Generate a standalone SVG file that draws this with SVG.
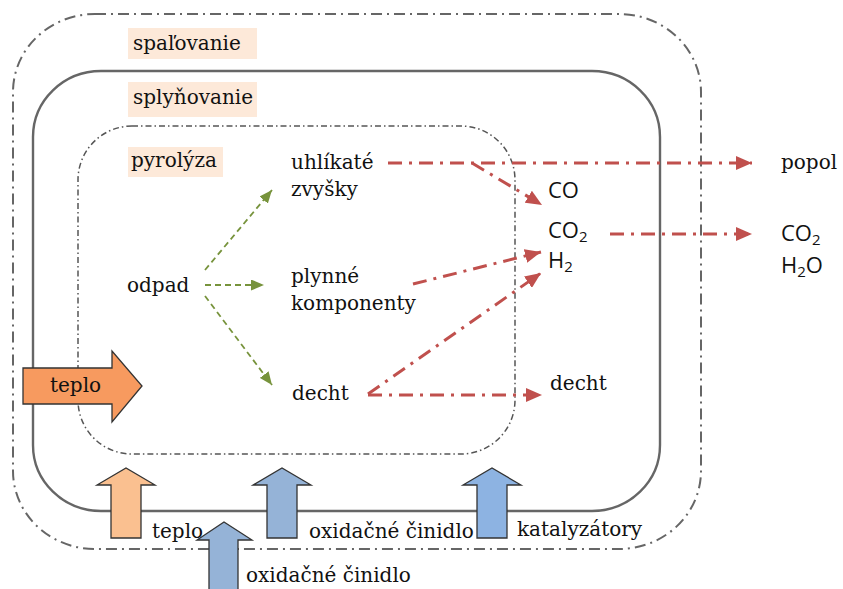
<svg xmlns="http://www.w3.org/2000/svg" width="843" height="589" viewBox="0 0 843 589">
<defs>
<style>
.t{font-family:"DejaVu Serif","Liberation Serif",serif;font-size:20px;fill:#111;}
.c{font-family:"Open Sans","Liberation Sans",sans-serif;font-size:22px;fill:#111;}
.sub{font-size:15px;}
.lbl{fill:#fde9d9;}
.red{fill:none;stroke:#c0504d;stroke-width:3;stroke-dasharray:14 7 3 7;}
.grn{fill:none;stroke:#77933c;stroke-width:1.8;stroke-dasharray:6 4;}
.arrow{stroke:#333;stroke-width:1.3;stroke-linejoin:miter;}
</style>
<marker id="mr" markerUnits="userSpaceOnUse" markerWidth="16" markerHeight="14" refX="16" refY="7" orient="auto"><path d="M0,0 L16,7 L0,14 z" fill="#c0504d"/></marker>
<marker id="mg" markerUnits="userSpaceOnUse" markerWidth="13" markerHeight="11" refX="13" refY="5.5" orient="auto"><path d="M0,0 L13,5.5 L0,11 z" fill="#77933c"/></marker>
</defs>
<rect width="843" height="589" fill="#fff"/>

<g id="spalovanie">
<rect x="13" y="14" width="688" height="535" rx="82" ry="78" fill="none" stroke="#666" stroke-width="2" stroke-dasharray="11 5 2 5"/>
<rect class="lbl" x="128" y="28" width="129" height="31"/>
<text class="t" x="133" y="50">spaľovanie</text>
</g>
<g id="splynovanie">
<rect x="33" y="71" width="627" height="440" rx="68" ry="66" fill="none" stroke="#666" stroke-width="2.4"/>
<rect class="lbl" x="128" y="82" width="129" height="35"/>
<text class="t" x="133" y="104">splyňovanie</text>
</g>
<g id="pyrolyza">
<rect x="78" y="126" width="437" height="328" rx="54" ry="54" fill="none" stroke="#555" stroke-width="1.5" stroke-dasharray="6 3 1.5 3"/>
<rect class="lbl" x="128" y="147" width="95" height="30"/>
<text class="t" x="131" y="167">pyrolýza</text>
</g>

<g id="connectors">
<line class="grn" x1="205" y1="270" x2="272" y2="190" marker-end="url(#mg)"/>
<line class="grn" x1="205" y1="285" x2="264" y2="285" marker-end="url(#mg)"/>
<line class="grn" x1="205" y1="296" x2="272" y2="385" marker-end="url(#mg)"/>
<line class="red" x1="388" y1="163" x2="752" y2="163" marker-end="url(#mr)"/>
<line class="red" x1="472" y1="163" x2="542" y2="205" marker-end="url(#mr)"/>
<line class="red" x1="610" y1="234" x2="752" y2="234" marker-end="url(#mr)"/>
<line class="red" x1="413" y1="284" x2="541" y2="252" marker-end="url(#mr)"/>
<line class="red" x1="368" y1="394" x2="541" y2="273" marker-end="url(#mr)"/>
<line class="red" x1="368" y1="395" x2="542" y2="395" marker-end="url(#mr)"/>
</g>

<g id="odpad"><text class="t" x="127" y="292">odpad</text></g>
<g id="uhlikate"><text class="t" x="291" y="169">uhlíkaté</text><text class="t" x="291" y="196">zvyšky</text></g>
<g id="plynne"><text class="t" x="291" y="283">plynné</text><text class="t" x="291" y="310">komponenty</text></g>
<g id="decht1"><text class="t" x="292" y="400">decht</text></g>
<g id="co"><text class="c" x="548" y="198">CO</text></g>
<g id="co2"><text class="c" x="548" y="238">CO<tspan class="sub" dy="4">2</tspan></text></g>
<g id="h2"><text class="c" x="548" y="268">H<tspan class="sub" dy="4">2</tspan></text></g>
<g id="decht2"><text class="t" x="550" y="390">decht</text></g>
<g id="popol"><text class="t" x="781" y="169">popol</text></g>
<g id="co2h2o"><text class="c" x="781" y="241">CO<tspan class="sub" dy="4">2</tspan></text><text class="c" x="781" y="273">H<tspan class="sub" dy="4">2</tspan><tspan dy="-4">O</tspan></text></g>

<g id="teplo-left">
<path class="arrow" d="M23,368 L112,368 L112,351 L142,386 L112,422 L112,404 L23,404 Z" fill="#f79a5f"/>
<text class="t" x="50" y="392">teplo</text>
</g>
<g id="teplo-bottom">
<path class="arrow" d="M111,538 L111,485 L97,485 L126,468 L155,485 L141,485 L141,538 Z" fill="#fac090"/>
<text class="t" x="152" y="538">teplo</text>
</g>
<g id="oxid-inner">
<path class="arrow" d="M267,538 L267,485 L253,485 L282,468 L311,485 L297,485 L297,538 Z" fill="#95b3d7"/>
<text class="t" x="309" y="538">oxidačné činidlo</text>
</g>
<g id="katalyzatory">
<path class="arrow" d="M477,538 L477,485 L463,485 L492,468 L521,485 L507,485 L507,538 Z" fill="#8db3e2"/>
<text class="t" x="517" y="536">katalyzátory</text>
</g>
<g id="oxid-outer">
<path class="arrow" d="M209,592 L209,540 L197,540 L224,522 L252,540 L238,540 L238,592 Z" fill="#95b3d7"/>
<text class="t" x="246" y="582">oxidačné činidlo</text>
</g>
</svg>
